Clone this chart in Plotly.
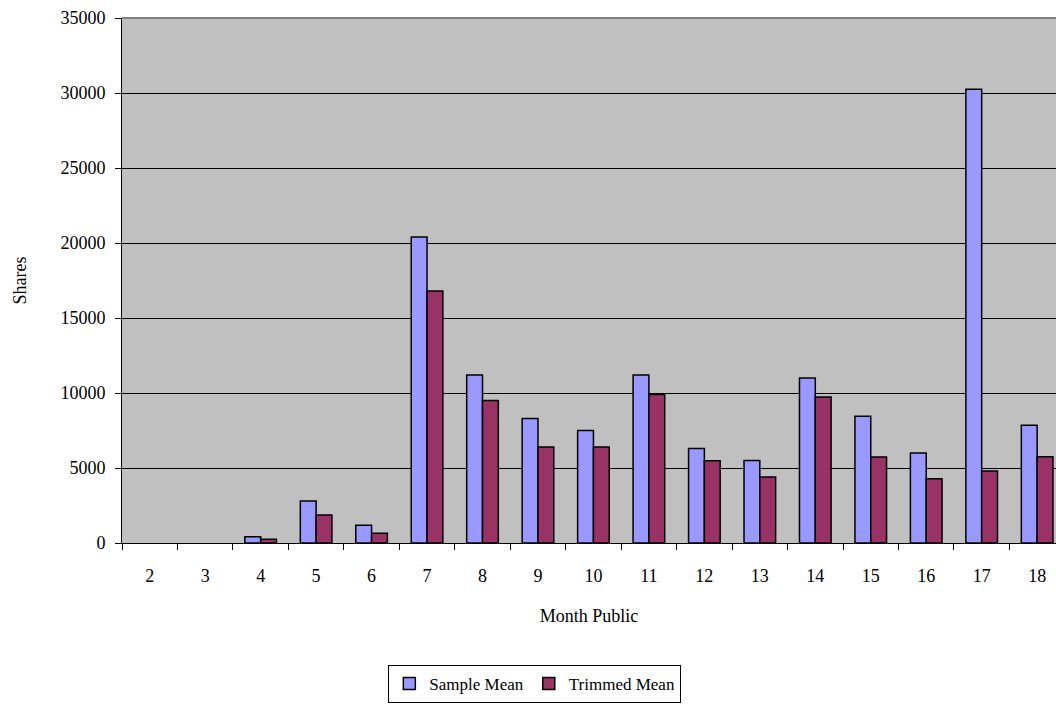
import plotly.graph_objects as go

months = ["2", "3", "4", "5", "6", "7", "8", "9", "10", "11", "12", "13", "14", "15", "16", "17", "18"]
sample_mean = [None, None, 420, 2800, 1180, 20400, 11200, 8300, 7500, 11200, 6300, 5500, 11000, 8450, 6000, 30250, 7850]
trimmed_mean = [None, None, 250, 1870, 650, 16800, 9500, 6400, 6400, 9900, 5480, 4400, 9730, 5730, 4280, 4800, 5750]

font = dict(family="Liberation Serif, Times New Roman, serif", size=18, color="black")

fig = go.Figure()
fig.add_trace(go.Bar(x=months, y=sample_mean, name="Sample Mean",
                     marker=dict(color="#9999FF", line=dict(color="black", width=1.5))))
fig.add_trace(go.Bar(x=months, y=trimmed_mean, name="Trimmed Mean",
                     marker=dict(color="#993366", line=dict(color="black", width=1.5))))

fig.update_layout(
    width=1056, height=704,
    margin=dict(l=122, r=0, t=18, b=161),
    paper_bgcolor="white", plot_bgcolor="#C0C0C0",
    font=font,
    barmode="group", bargap=0.43, bargroupgap=0,
    showlegend=True,
    legend=dict(orientation="h", x=0.442, xanchor="center", y=-0.2324, yanchor="top",
                bordercolor="black", borderwidth=1, bgcolor="white",
                font=dict(family=font["family"], size=17, color="black"),
                itemwidth=30, traceorder="normal", tracegroupgap=0),
    xaxis=dict(type="category", range=[-0.5, 16.34],
               showline=True, linecolor="black", linewidth=1,
               ticks="outside", tickson="boundaries", ticklen=6, tickcolor="black",
               ticklabelstandoff=16,
               showgrid=False,
               title=dict(text="Month Public", font=font, standoff=24)),
    yaxis=dict(range=[0, 35000], dtick=5000, tickformat="d",
               showline=True, linecolor="black", linewidth=1,
               ticks="outside", ticklen=6, tickcolor="black",
               ticklabelstandoff=6,
               showgrid=True, gridcolor="black", gridwidth=1,
               zeroline=False,
               title=dict(text="Shares", font=font, standoff=29)),
    shapes=[dict(type="line", xref="paper", yref="paper", x0=0, x1=1, y0=1, y1=1,
                 line=dict(color="#808080", width=2))],
)

fig.write_html("out.html", config={"displayModeBar": False},
               post_script="document.body.style.margin='0';document.body.style.overflow='hidden';")
